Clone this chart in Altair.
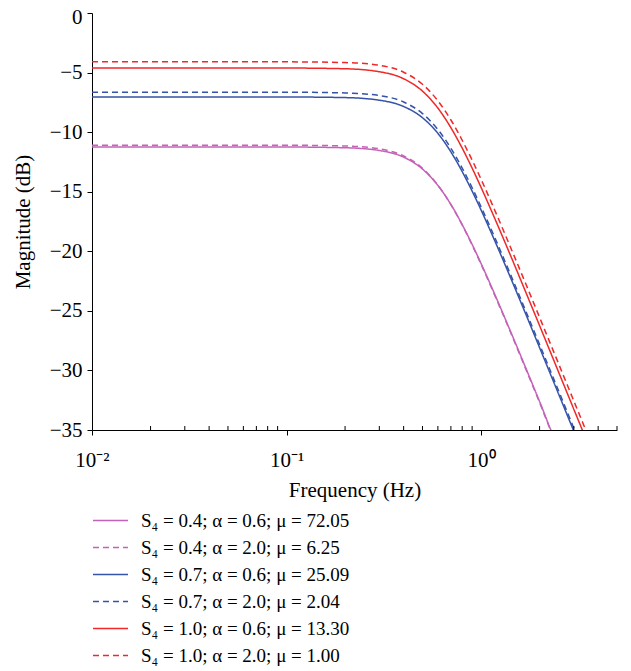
import altair as alt
import pandas as pd

freq = [0.01, 0.1, 0.2, 0.3, 0.4, 0.5, 0.6, 0.7, 0.8, 0.9, 1.0, 1.2, 1.4, 1.7, 2.0, 2.4, 2.8, 3.2, 3.6]

labels = [
    "S\u2084 = 0.4; \u03b1 = 0.6; \u03bc = 72.05",
    "S\u2084 = 0.4; \u03b1 = 2.0; \u03bc = 6.25",
    "S\u2084 = 0.7; \u03b1 = 0.6; \u03bc = 25.09",
    "S\u2084 = 0.7; \u03b1 = 2.0; \u03bc = 2.04",
    "S\u2084 = 1.0; \u03b1 = 0.6; \u03bc = 13.30",
    "S\u2084 = 1.0; \u03b1 = 2.0; \u03bc = 1.00",
]

mag_s04_a06 = [-11.25, -11.25, -11.31, -11.54, -12.10, -13.10, -14.47, -16.07, -17.76, -19.42, -21.02, -23.94, -26.51, -29.81, -32.61, -35.76, -37.5, -39.0, -40.0]
mag_s04_a20 = [-11.10, -11.10, -11.16, -11.40, -12.00, -13.03, -14.45, -16.09, -17.79, -19.48, -21.08, -24.02, -26.59, -29.90, -32.69, -35.85, -37.6, -39.1, -40.1]
mag_s07_a06 = [-7.05, -7.05, -7.10, -7.32, -7.85, -8.79, -10.10, -11.66, -13.31, -14.95, -16.53, -19.44, -22.00, -25.29, -28.09, -31.24, -33.91, -36.22, -38.3]
mag_s07_a20 = [-6.65, -6.65, -6.71, -6.93, -7.47, -8.44, -9.78, -11.36, -13.02, -14.67, -16.26, -19.17, -21.74, -25.04, -27.83, -30.98, -33.65, -35.97, -38.0]
mag_s10_a06 = [-4.62, -4.62, -4.68, -4.93, -5.52, -6.56, -7.98, -9.63, -11.34, -13.02, -14.63, -17.57, -20.14, -23.45, -26.24, -29.40, -32.07, -34.38, -36.43]
mag_s10_a20 = [-4.10, -4.10, -4.16, -4.39, -4.97, -5.98, -7.37, -8.98, -10.68, -12.35, -13.95, -16.88, -19.45, -22.75, -25.55, -28.70, -31.37, -33.68, -35.73]

series = [mag_s04_a06, mag_s04_a20, mag_s07_a06, mag_s07_a20, mag_s10_a06, mag_s10_a20]
colors = ["#c462b8", "#c462b8", "#3553a8", "#3553a8", "#f02828", "#f02828"]
dashes = [[1, 0], [6, 4], [1, 0], [6, 4], [1, 0], [6, 4]]

minor_ticks = [0.02, 0.03, 0.04, 0.05, 0.06, 0.07, 0.08, 0.09,
               0.2, 0.3, 0.4, 0.5, 0.6, 0.7, 0.8, 0.9, 2, 3, 4, 5]

rows = []
for lab, vals in zip(labels, series):
    for f, v in zip(freq, vals):
        rows.append({"freq": f, "mag": v, "series": lab})
df = pd.DataFrame(rows)

W, H = 525, 417
FONT = "Liberation Serif"

xscale = alt.Scale(type="log", domain=[0.01, 5], nice=False)
yscale = alt.Scale(domain=[-35, 0], nice=False)

lines = alt.Chart(df).mark_line(strokeWidth=1.5, interpolate="monotone", clip=True).encode(
    x=alt.X("freq:Q", scale=xscale, title="Frequency (Hz)",
            axis=alt.Axis(values=[0.01, 0.1, 1], tickSize=5, grid=False, labelFlush=False,
                          labelExpr="datum.value < 0.05 ? '10\u207b\u00b2' : (datum.value < 0.5 ? '10\u207b\u00b9' : '10\u2070')",
                          labelPadding=14, titlePadding=9)),
    y=alt.Y("mag:Q", scale=yscale, title="Magnitude (dB)",
            axis=alt.Axis(values=[0, -5, -10, -15, -20, -25, -30, -35], tickSize=5, grid=False,
                          labelPadding=5, titlePadding=16,
                          labelOffset={"condition": {"test": "datum.value == 0", "value": 4}, "value": 0})),
    color=alt.Color("series:N", scale=alt.Scale(domain=labels, range=colors), title=None,
                    legend=alt.Legend(orient="none", legendX=0, legendY=494, symbolType="stroke",
                                      symbolSize=1225, symbolStrokeWidth=1.5, labelFontSize=19,
                                      labelFont=FONT, labelColor="black", rowPadding=0,
                                      clipHeight=27,
                                      labelOffset=12, padding=0, labelLimit=500)),
    strokeDash=alt.StrokeDash("series:N", scale=alt.Scale(domain=labels, range=dashes), title=None),
    detail="series:N",
)

minor = alt.Chart(pd.DataFrame({"t": minor_ticks})).mark_rule(color="black", strokeWidth=1).encode(
    x=alt.X("t:Q", scale=xscale),
    y=alt.value(H),
    y2=alt.value(H - 4),
)

chart = alt.layer(lines, minor).properties(
    width=W, height=H,
    autosize=alt.AutoSizeParams(type="none"),
    padding={"left": 84, "top": 5, "right": 6, "bottom": 240},
).configure_view(stroke=None).configure_axis(
    domainColor="black", tickColor="black", labelColor="black", titleColor="black",
    labelFont=FONT, titleFont=FONT, labelFontSize=21, titleFontSize=21,
    titleFontWeight="normal",
)

chart.save("out.html", embed_options={"renderer": "svg", "actions": False})
